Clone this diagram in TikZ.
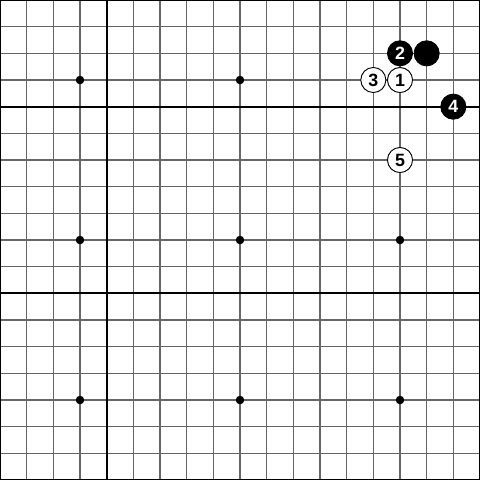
\documentclass[tikz,border=0pt]{standalone}
\usepackage{fontspec}
\setmainfont{Liberation Sans}
\begin{document}
\begin{tikzpicture}[x=0.5cm,y=-0.5cm,
  gridline/.style={draw=black!60,line width=0.7pt},
  darkline/.style={draw=black,line width=1.1pt},
  hoshi/.style={circle,fill=black,inner sep=0pt,minimum size=0.16cm},
  bstone/.style={circle,fill=black,draw=black,line width=0.5pt,inner sep=0pt,minimum size=0.47cm,text=white,font=\bfseries\fontsize{9.5}{9.5}\selectfont},
  wstone/.style={circle,fill=white,draw=black,line width=0.5pt,inner sep=0pt,minimum size=0.47cm,text=black,font=\bfseries\fontsize{9.5}{9.5}\selectfont}]
\useasboundingbox (0,0) rectangle (18,18);
\fill[white] (0,0) rectangle (18,18);
\foreach \i in {1,...,17} {
  \draw[gridline] (\i,0) -- (\i,18);
  \draw[gridline] (0,\i) -- (18,\i);
}
\draw[darkline] (4,0) -- (4,18);
\draw[darkline] (0,4) -- (18,4);
\draw[darkline] (0,11) -- (18,11);
\draw[black,line width=1.4pt] (0,0) rectangle (18,18);
\foreach \x in {3,9,15} \foreach \y in {3,9,15}
  \node[hoshi] (h\x-\y) at (\x,\y) {};
\node[bstone] (s2) at (15,2) {2};
\node[bstone] (sb) at (16,2) {};
\node[wstone] (s3) at (14,3) {3};
\node[wstone] (s1) at (15,3) {1};
\node[bstone] (s4) at (17,4) {4};
\node[wstone] (s5) at (15,6) {5};
\end{tikzpicture}
\end{document}
